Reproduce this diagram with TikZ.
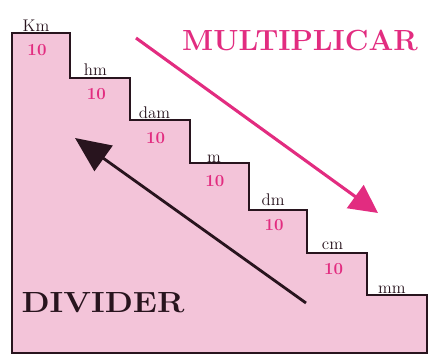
\documentclass[tikz,border=0pt]{standalone}
\usetikzlibrary{arrows.meta}
\begin{document}
\begin{tikzpicture}[x=0.025cm,y=-0.025cm,font=\large]
\definecolor{rose}{RGB}{243,196,217}
\definecolor{fuchsia}{RGB}{226,44,128}
\definecolor{encre}{RGB}{40,20,30}
\tikzset{unite/.style={text=encre,inner sep=1pt},
  dix/.style={text=fuchsia,font=\large\bfseries,inner sep=1pt}}
\useasboundingbox (0,0) rectangle (434,356);
% escalier
\draw[fill=rose,draw=encre,thick] (12,353) -- (12,33) -- (70,33) -- (70,78)
  -- (130,78) -- (130,120) -- (190,120) -- (190,163) -- (249,163) -- (249,210)
  -- (307,210) -- (307,253) -- (367,253) -- (367,295) -- (427,295) -- (427,353) -- cycle;
\foreach \i/\u in {0/Km,1/hm,2/dam,3/m,4/dm,5/cm,6/mm}
  \node[unite,above] (u\i) at ({36+59.3*\i},{33+43.7*\i}) {\u};
\foreach \i in {0,...,5}
  \node[dix,below] (n\i) at ({37+59.3*\i},{43+43.7*\i}) {10};
\node[text=fuchsia,font=\huge\bfseries] (mult) at (300,40) {MULTIPLICAR};
\node[text=encre,font=\huge\bfseries,xscale=1.12] (div) at (103,303) {DIVIDER};
% fleches
\coordinate (m1) at (136,38);
\coordinate (m2) at (378,213);
\draw[fuchsia,line width=2.2pt,-{Triangle[length=20pt,width=20pt]}] (m1) -- (m2);
\coordinate (d1) at (306,303);
\coordinate (d2) at (75,138);
\draw[encre,line width=2pt,-{Triangle[length=25pt,width=22pt]}] (d1) -- (d2);
\end{tikzpicture}
\end{document}
